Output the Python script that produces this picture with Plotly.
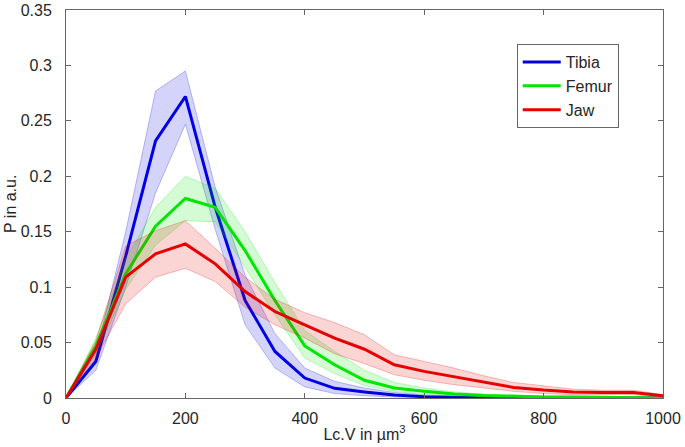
import plotly.graph_objects as go

x_vals = [0, 50, 100, 150, 200, 250, 300, 350, 400, 450, 500, 550, 600, 650, 700, 750, 800, 850, 900, 950, 1000]

tibia_mean = [0, 0.033, 0.128, 0.232, 0.272, 0.172, 0.088, 0.042, 0.018, 0.0087, 0.0055, 0.0027, 0.0012, 0.0006, 0.0003, 0.0002, 0.0001, 0.0001, 0.0001, 0.0001, 0]
tibia_upper = [0, 0.040, 0.150, 0.277, 0.295, 0.190, 0.111, 0.058, 0.027, 0.015, 0.009, 0.005, 0.0025, 0.0012, 0.0006, 0.0004, 0.0002, 0.0002, 0.0002, 0.0002, 0]
tibia_lower = [0, 0.025, 0.100, 0.185, 0.247, 0.152, 0.066, 0.027, 0.010, 0.004, 0.002, 0.001, 0.0003, 0.0001, 0, 0, 0, 0, 0, 0, 0]

femur_mean = [0, 0.047, 0.112, 0.155, 0.180, 0.172, 0.133, 0.088, 0.047, 0.030, 0.016, 0.009, 0.006, 0.0036, 0.0022, 0.0014, 0.001, 0.0008, 0.0006, 0.0005, 0]
femur_upper = [0, 0.054, 0.126, 0.172, 0.200, 0.189, 0.150, 0.104, 0.061, 0.042, 0.025, 0.014, 0.009, 0.0055, 0.0035, 0.0024, 0.0018, 0.0014, 0.0011, 0.0009, 0]
femur_lower = [0, 0.040, 0.098, 0.138, 0.160, 0.159, 0.118, 0.075, 0.036, 0.022, 0.011, 0.006, 0.003, 0.0018, 0.001, 0.0006, 0.0004, 0.0003, 0.0002, 0.0002, 0]

jaw_mean = [0, 0.044, 0.109, 0.130, 0.139, 0.121, 0.096, 0.078, 0.066, 0.054, 0.044, 0.030, 0.024, 0.019, 0.014, 0.0095, 0.0072, 0.0055, 0.005, 0.005, 0.002]
jaw_upper = [0, 0.052, 0.137, 0.151, 0.160, 0.135, 0.109, 0.089, 0.077, 0.068, 0.057, 0.039, 0.033, 0.027, 0.020, 0.014, 0.011, 0.008, 0.007, 0.007, 0.003]
jaw_lower = [0, 0.036, 0.085, 0.109, 0.117, 0.105, 0.082, 0.066, 0.054, 0.040, 0.031, 0.021, 0.016, 0.012, 0.009, 0.006, 0.004, 0.003, 0.003, 0.003, 0.001]

series = [
    ("Tibia", tibia_mean, tibia_upper, tibia_lower, (0, 0, 230)),
    ("Femur", femur_mean, femur_upper, femur_lower, (0, 230, 0)),
    ("Jaw", jaw_mean, jaw_upper, jaw_lower, (230, 0, 0)),
]

x_ticks = [0, 200, 400, 600, 800, 1000]
y_ticks = [0, 0.05, 0.1, 0.15, 0.2, 0.25, 0.3, 0.35]
y_tick_labels = ["0", "0.05", "0.1", "0.15", "0.2", "0.25", "0.3", "0.35"]

fig = go.Figure()
for name, mean, up, lo, (r, g, b) in series:
    fig.add_trace(go.Scatter(
        x=x_vals + x_vals[::-1], y=up + lo[::-1],
        fill="toself", fillcolor=f"rgba({r},{g},{b},0.17)",
        line=dict(color=f"rgba({r},{g},{b},0.25)", width=1),
        mode="lines", showlegend=False, hoverinfo="skip"))
    fig.add_trace(go.Scatter(
        x=x_vals, y=mean, mode="lines", name=name,
        line=dict(color=f"rgb({r},{g},{b})", width=3)))

font_family = "Liberation Sans, Arial, sans-serif"
text_color = "#262626"
axis_common = dict(
    showline=True, linecolor="#666666", linewidth=1, mirror="ticks",
    ticks="inside", ticklen=5, tickcolor="#666666", showgrid=False, zeroline=False,
    automargin=False,
    tickfont=dict(family=font_family, size=16, color=text_color),
)

fig.update_layout(
    template="none",
    width=685, height=447,
    margin=dict(l=66, r=22, t=10, b=49),
    paper_bgcolor="white", plot_bgcolor="white",
    font=dict(family=font_family, size=16, color=text_color),
    xaxis=dict(range=[0, 1000], tickvals=x_ticks,
               title=dict(text="Lc.V in µm<sup>3</sup>", standoff=2,
                          font=dict(family=font_family, size=16, color=text_color)),
               ticklabelstandoff=6, **axis_common),
    yaxis=dict(range=[0, 0.35], tickvals=y_ticks, ticktext=y_tick_labels,
               ticklabelstandoff=10, **axis_common),
    legend=dict(x=0.755, y=0.912, xanchor="left", yanchor="top",
                bordercolor="#666666", borderwidth=1, bgcolor="white",
                itemwidth=38,
                font=dict(family=font_family, size=16, color=text_color)),
    annotations=[dict(text="P in a.u.", textangle=-90, xref="paper", yref="paper",
                      x=0, y=0.5, xanchor="center", yanchor="middle",
                      xshift=-56, showarrow=False,
                      font=dict(family=font_family, size=16, color=text_color))],
)

fig.write_html("out.html", config={"displayModeBar": False},
               post_script="document.body.style.margin='0';")
